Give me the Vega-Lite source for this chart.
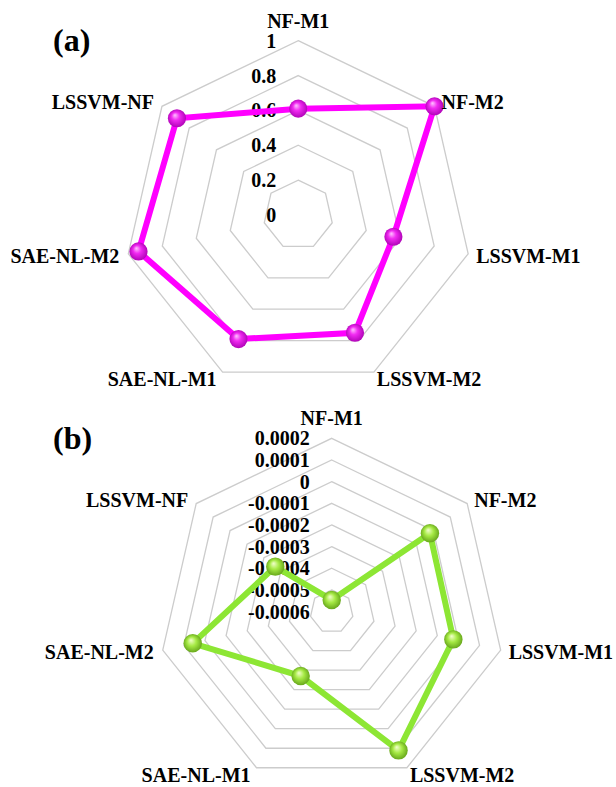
{
  "$schema": "https://vega.github.io/schema/vega-lite/v6.json",
  "autosize": {"type": "pad"},
  "padding": 0,
  "bounds": "flush",
  "spacing": 0,
  "background": "white",
  "config": {
    "view": {"stroke": null},
    "locale": {"number": {"decimal": ".", "thousands": ",", "grouping": [3], "currency": ["$", ""], "minus": "-"}},
    "text": {"font": "Liberation Serif", "fontWeight": "bold", "fontSize": 20, "color": "#000000"}
  },
  "datasets": {
    "a": [
      {"axis": "NF-M1", "k": 0, "value": 0.61},
      {"axis": "NF-M2", "k": 1, "value": 1.0},
      {"axis": "LSSVM-M1", "k": 2, "value": 0.56},
      {"axis": "LSSVM-M2", "k": 3, "value": 0.75},
      {"axis": "SAE-NL-M1", "k": 4, "value": 0.79},
      {"axis": "SAE-NL-M2", "k": 5, "value": 0.94},
      {"axis": "LSSVM-NF", "k": 6, "value": 0.89}
    ],
    "b": [
      {"axis": "NF-M1", "k": 0, "value": -0.000546},
      {"axis": "NF-M2", "k": 1, "value": -0.00002},
      {"axis": "LSSVM-M1", "k": 2, "value": -0.000024},
      {"axis": "LSSVM-M2", "k": 3, "value": 0.000111},
      {"axis": "SAE-NL-M1", "k": 4, "value": -0.00027},
      {"axis": "SAE-NL-M2", "k": 5, "value": 0.000058},
      {"axis": "LSSVM-NF", "k": 6, "value": -0.000267}
    ],
    "gridA": [
      {"v": 0, "k": [0, 1, 2, 3, 4, 5, 6]},
      {"v": 0.2, "k": [0, 1, 2, 3, 4, 5, 6]},
      {"v": 0.4, "k": [0, 1, 2, 3, 4, 5, 6]},
      {"v": 0.6, "k": [0, 1, 2, 3, 4, 5, 6]},
      {"v": 0.8, "k": [0, 1, 2, 3, 4, 5, 6]},
      {"v": 1, "k": [0, 1, 2, 3, 4, 5, 6]}
    ],
    "gridB": [
      {"v": -0.0006, "k": [0, 1, 2, 3, 4, 5, 6]},
      {"v": -0.0005, "k": [0, 1, 2, 3, 4, 5, 6]},
      {"v": -0.0004, "k": [0, 1, 2, 3, 4, 5, 6]},
      {"v": -0.0003, "k": [0, 1, 2, 3, 4, 5, 6]},
      {"v": -0.0002, "k": [0, 1, 2, 3, 4, 5, 6]},
      {"v": -0.0001, "k": [0, 1, 2, 3, 4, 5, 6]},
      {"v": 0, "k": [0, 1, 2, 3, 4, 5, 6]},
      {"v": 0.0001, "k": [0, 1, 2, 3, 4, 5, 6]},
      {"v": 0.0002, "k": [0, 1, 2, 3, 4, 5, 6]}
    ]
  },
  "vconcat": [
    {
      "width": 616,
      "height": 400,
      "title": {"text": "(a)", "anchor": "start", "frame": "group", "orient": "top", "offset": 0, "baseline": "middle", "dx": 53, "dy": 73, "font": "Liberation Serif", "fontWeight": "bold", "fontSize": 32, "color": "#000000"},
      "encoding": {
        "x": {"field": "px", "type": "quantitative", "scale": {"domain": [-1.711, 1.823], "nice": false, "zero": false}, "axis": null},
        "y": {"field": "py", "type": "quantitative", "scale": {"domain": [-1.0614, 1.2335], "nice": false, "zero": false}, "axis": null}
      },
      "layer": [
        {
          "data": {"name": "gridA"},
          "transform": [
            {"filter": "datum.v > 0"},
            {"flatten": ["k"]},
            {"calculate": "datum.v * sin(datum.k * 2 * PI / 7)", "as": "px"},
            {"calculate": "datum.v * cos(datum.k * 2 * PI / 7)", "as": "py"}
          ],
          "mark": {"type": "line", "interpolate": "linear-closed", "color": "#cccccc", "strokeWidth": 1.3},
          "encoding": {"detail": {"field": "v", "type": "nominal"}, "order": {"field": "k", "type": "quantitative"}}
        },
        {
          "data": {"name": "gridA"},
          "transform": [
            {"calculate": "0", "as": "px"},
            {"calculate": "datum.v", "as": "py"}
          ],
          "mark": {"type": "text", "align": "right", "baseline": "alphabetic", "dx": -22, "dy": 7},
          "encoding": {"text": {"field": "v", "type": "quantitative", "format": ".1~f"}}
        },
        {
          "data": {"name": "a"},
          "transform": [
            {"calculate": "datum.value * sin(datum.k * 2 * PI / 7)", "as": "px"},
            {"calculate": "datum.value * cos(datum.k * 2 * PI / 7)", "as": "py"}
          ],
          "encoding": {"order": {"field": "k", "type": "quantitative"}},
          "layer": [
            {"mark": {"type": "line", "interpolate": "linear-closed", "color": "#ff00ff", "strokeWidth": 6}},
            {"mark": {"type": "point", "filled": true, "opacity": 1, "size": 330, "shape": "circle",
              "fill": {"gradient": "radial", "x1": 0.38, "y1": 0.32, "r1": 0, "x2": 0.5, "y2": 0.5, "r2": 0.55,
                "stops": [{"offset": 0, "color": "#ffc8ff"}, {"offset": 0.4, "color": "#f22af2"}, {"offset": 1, "color": "#a800b0"}]}}}
          ]
        },
        {
          "data": {"name": "a"},
          "transform": [
            {"calculate": "sin(datum.k * 2 * PI / 7)", "as": "px"},
            {"calculate": "cos(datum.k * 2 * PI / 7)", "as": "py"}
          ],
          "encoding": {"text": {"field": "axis", "type": "nominal"}},
          "layer": [
            {"transform": [{"filter": "datum.k == 0"}], "mark": {"type": "text", "align": "center", "baseline": "alphabetic", "dy": -13}},
            {"transform": [{"filter": "datum.k == 1"}], "mark": {"type": "text", "align": "left", "baseline": "alphabetic", "dx": 7, "dy": 3}},
            {"transform": [{"filter": "datum.k == 2"}], "mark": {"type": "text", "align": "left", "baseline": "alphabetic", "dx": 8, "dy": 9}},
            {"transform": [{"filter": "datum.k == 3"}], "mark": {"type": "text", "align": "left", "baseline": "alphabetic", "dx": 3, "dy": 14}},
            {"transform": [{"filter": "datum.k == 4"}], "mark": {"type": "text", "align": "right", "baseline": "alphabetic", "dx": -6, "dy": 14}},
            {"transform": [{"filter": "datum.k == 5"}], "mark": {"type": "text", "align": "right", "baseline": "alphabetic", "dx": -9, "dy": 9}},
            {"transform": [{"filter": "datum.k == 6"}], "mark": {"type": "text", "align": "right", "baseline": "alphabetic", "dx": -8, "dy": 3}}
          ]
        }
      ]
    },
    {
      "width": 616,
      "height": 387,
      "title": {"text": "(b)", "anchor": "start", "frame": "group", "orient": "top", "offset": 0, "baseline": "middle", "dx": 53, "dy": 71, "font": "Liberation Serif", "fontWeight": "bold", "fontSize": 32, "color": "#000000"},
      "encoding": {
        "x": {"field": "px", "type": "quantitative", "scale": {"domain": [-1.914, 1.6405], "nice": false, "zero": false}, "axis": null},
        "y": {"field": "py", "type": "quantitative", "scale": {"domain": [-1.012, 1.221], "nice": false, "zero": false}, "axis": null}
      },
      "layer": [
        {
          "data": {"name": "gridB"},
          "transform": [
            {"filter": "datum.v > -0.00055"},
            {"flatten": ["k"]},
            {"calculate": "(datum.v + 0.0006) / 0.0008", "as": "r"},
            {"calculate": "datum.r * sin(datum.k * 2 * PI / 7)", "as": "px"},
            {"calculate": "datum.r * cos(datum.k * 2 * PI / 7)", "as": "py"}
          ],
          "mark": {"type": "line", "interpolate": "linear-closed", "color": "#cccccc", "strokeWidth": 1.3},
          "encoding": {"detail": {"field": "v", "type": "nominal"}, "order": {"field": "k", "type": "quantitative"}}
        },
        {
          "data": {"name": "gridB"},
          "transform": [
            {"calculate": "0", "as": "px"},
            {"calculate": "(datum.v + 0.0006) / 0.0008", "as": "py"}
          ],
          "mark": {"type": "text", "align": "right", "baseline": "alphabetic", "dx": -22, "dy": 7},
          "encoding": {"text": {"field": "v", "type": "quantitative", "format": ".4~f"}}
        },
        {
          "data": {"name": "b"},
          "transform": [
            {"calculate": "(datum.value + 0.0006) / 0.0008", "as": "r"},
            {"calculate": "datum.r * sin(datum.k * 2 * PI / 7)", "as": "px"},
            {"calculate": "datum.r * cos(datum.k * 2 * PI / 7)", "as": "py"}
          ],
          "encoding": {"order": {"field": "k", "type": "quantitative"}},
          "layer": [
            {"mark": {"type": "line", "interpolate": "linear-closed", "color": "#8de634", "strokeWidth": 6}},
            {"mark": {"type": "point", "filled": true, "opacity": 1, "size": 340, "shape": "circle",
              "fill": {"gradient": "radial", "x1": 0.4, "y1": 0.32, "r1": 0, "x2": 0.5, "y2": 0.5, "r2": 0.55,
                "stops": [{"offset": 0, "color": "#f4ffd0"}, {"offset": 0.45, "color": "#a6ea44"}, {"offset": 1, "color": "#5f9e16"}]}}}
          ]
        },
        {
          "data": {"name": "b"},
          "transform": [
            {"calculate": "sin(datum.k * 2 * PI / 7)", "as": "px"},
            {"calculate": "cos(datum.k * 2 * PI / 7)", "as": "py"}
          ],
          "encoding": {"text": {"field": "axis", "type": "nominal"}},
          "layer": [
            {"transform": [{"filter": "datum.k == 0"}], "mark": {"type": "text", "align": "center", "baseline": "alphabetic", "dy": -13}},
            {"transform": [{"filter": "datum.k == 1"}], "mark": {"type": "text", "align": "left", "baseline": "alphabetic", "dx": 7, "dy": 3}},
            {"transform": [{"filter": "datum.k == 2"}], "mark": {"type": "text", "align": "left", "baseline": "alphabetic", "dx": 8, "dy": 9}},
            {"transform": [{"filter": "datum.k == 3"}], "mark": {"type": "text", "align": "left", "baseline": "alphabetic", "dx": 3, "dy": 14}},
            {"transform": [{"filter": "datum.k == 4"}], "mark": {"type": "text", "align": "right", "baseline": "alphabetic", "dx": -6, "dy": 14}},
            {"transform": [{"filter": "datum.k == 5"}], "mark": {"type": "text", "align": "right", "baseline": "alphabetic", "dx": -9, "dy": 9}},
            {"transform": [{"filter": "datum.k == 6"}], "mark": {"type": "text", "align": "right", "baseline": "alphabetic", "dx": -8, "dy": 3}}
          ]
        }
      ]
    }
  ]
}
